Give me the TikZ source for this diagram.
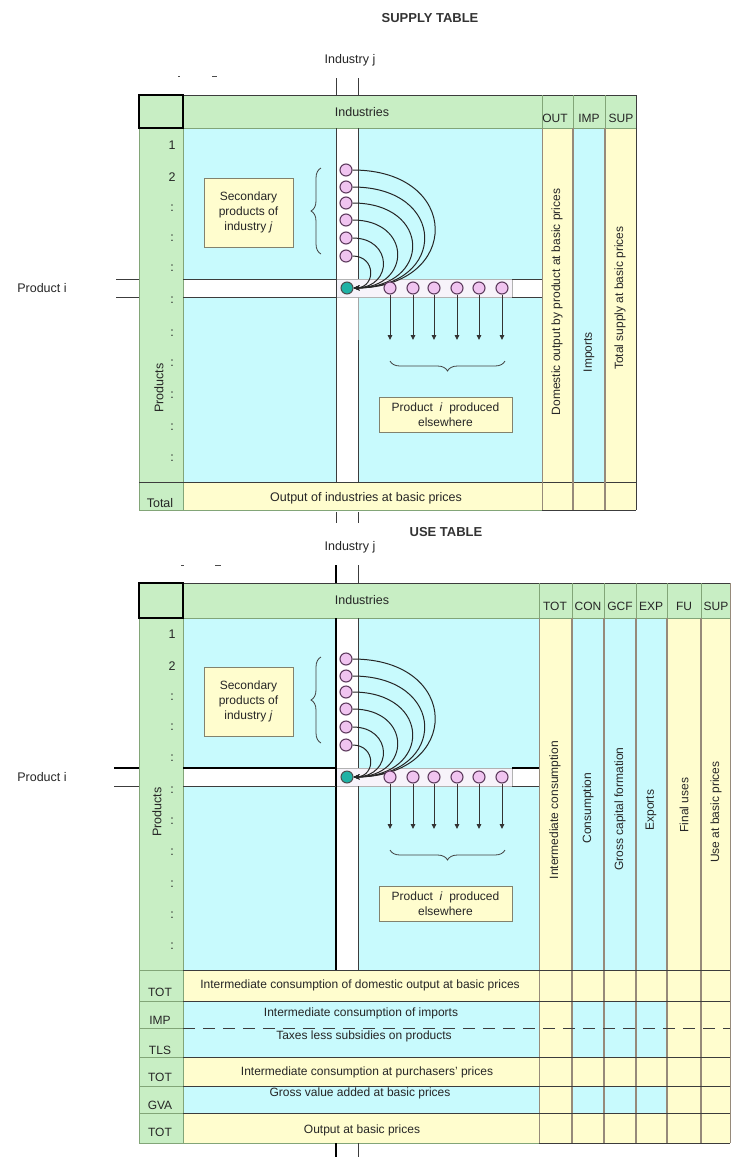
\documentclass[tikz,border=0pt]{standalone}
\usepackage{fontspec}
\setmainfont{Liberation Sans}
\usetikzlibrary{arrows.meta,decorations.pathreplacing}
\definecolor{cyanbg}{RGB}{200,250,253}
\definecolor{greenbg}{RGB}{200,238,196}
\definecolor{yellowbg}{RGB}{255,253,206}
\definecolor{colsep}{RGB}{150,138,122}
\definecolor{pinkfill}{RGB}{240,196,240}
\definecolor{circline}{RGB}{95,60,95}
\definecolor{tealfill}{RGB}{32,178,165}
\definecolor{gridline}{RGB}{60,60,60}
\definecolor{greenline}{RGB}{130,165,120}
\definecolor{boxline}{RGB}{130,130,110}
\definecolor{bandbox}{RGB}{247,243,250}

\tikzset{
 txt/.style={font=\fontsize{12.5}{15}\selectfont, inner sep=0pt, text=black!85},
 stxt/.style={font=\fontsize{12}{15}\selectfont, inner sep=0pt, text=black!85},
 ttl/.style={font=\bfseries\fontsize{13}{15}\selectfont, inner sep=0pt, text=black!80},
 vtxt/.style={stxt, rotate=90},
 pinkc/.style={circle, draw=circline, fill=pinkfill, line width=1.1pt, minimum size=12pt, inner sep=0pt},
 tealc/.style={circle, draw=black!70, fill=tealfill, line width=1pt, minimum size=12pt, inner sep=0pt},
 arcline/.style={draw=black!85, line width=1pt, -{Stealth[length=6pt,width=5pt]}},
 darr/.style={draw=black!80, line width=0.9pt, -{Triangle[length=5pt,width=4.5pt]}},
 brc/.style={decorate, decoration={brace, amplitude=10pt}, draw=black!75, line width=0.8pt},
 notebox/.style={draw=boxline, fill=yellowbg, line width=1pt, align=center, font=\fontsize{12}{15}\selectfont, inner sep=0pt, text=black!85},
 sepl/.style={draw=colsep, line width=1.6pt},
 gridl/.style={draw=gridline, line width=1pt},
 thickl/.style={draw=black, line width=2pt},
 thinl/.style={draw=greenline, line width=0.8pt},
}

\newcommand\flowpart[1]{%
  \node[tealc] (#1t) at (347,288) {};
  \foreach \k/\yy/\cc in {1/170/462,2/187/448,3/203/432,4/220/412,5/238/393,6/256/376}{%
    \node[pinkc] (#1v\k) at (346,\yy) {};
    \draw[arcline] (#1v\k.east) .. controls (\cc,\yy) and (\cc,287) .. (#1t.east);
  }%
  \foreach \k/\xx in {1/390,2/413,3/434,4/457,5/479,6/502}{%
    \node[pinkc] (#1h\k) at (\xx,288) {};
    \coordinate (#1a\k) at (\xx,340);
    \draw[darr] (#1h\k.south) -- (#1a\k);
  }%
  \coordinate (#1b1) at (505,361);
  \coordinate (#1b2) at (390,361);
  \draw[brc] (#1b1) -- (#1b2);
  \coordinate (#1c1) at (321,254);
  \coordinate (#1c2) at (321,168);
  \draw[brc] (#1c1) -- (#1c2);
  \node[notebox, minimum width=89pt, minimum height=69pt] (#1sec) at (248.5,212.5) {Secondary\\products of\\industry \textit{j}};
  \node[notebox, minimum width=133pt, minimum height=35pt] (#1pe) at (445.5,414.5) {Product \ \textit{i} \ produced\\elsewhere};
}

\begin{document}
\begin{tikzpicture}[x=1pt,y=-1pt]
\useasboundingbox (0,0) rectangle (731,1157);
\fill[white] (0,0) rectangle (731,1157);

% ================= SUPPLY TABLE =================
\fill[greenbg] (139,95) rectangle (636,128);
\fill[greenbg] (139,128) rectangle (183,510);
\fill[cyanbg] (183,128) rectangle (542,482);
\fill[yellowbg] (542,128) rectangle (573,482);
\fill[cyanbg] (573,128) rectangle (605,482);
\fill[yellowbg] (605,128) rectangle (636,482);
\fill[yellowbg] (183,482) rectangle (636,510);
% bands
\fill[white] (336,128) rectangle (358,482);
\fill[white] (183,279) rectangle (542,297);
\filldraw[fill=bandbox, draw=black!30, line width=0.8pt] (336,279) rectangle (512,297);
% grid lines
\draw[gridl] (139,95) -- (636,95);
\draw[thinl] (139,95) -- (139,510);
\draw[thinl] (183,128) -- (183,510);
\draw[thinl] (183,128) -- (636,128);
\draw[gridl] (139,482) -- (636,482);
\draw[thinl] (139,510) -- (542,510);
\draw[gridl] (542,510) -- (636,510);
\draw[draw=black, line width=1.6pt] (139,95) rectangle (183,128);
\foreach \xx in {542,573,605}{\draw[thinl] (\xx,95) -- (\xx,128);}
\draw[draw=colsep, line width=1pt] (542,128) -- (542,510);
\draw[sepl] (573,128) -- (573,510);
\draw[sepl] (605,128) -- (605,510);
\draw[gridl] (636,95) -- (636,510);
% vertical band lines
\draw[gridl] (336,128) -- (336,482);
\draw[gridl] (358,128) -- (358,279);
\draw[draw=black!35, line width=1pt] (358,297) -- (358,340);
\draw[gridl] (358,340) -- (358,482);
% horizontal band lines
\draw[gridl] (183,279) -- (336,279);
\draw[gridl] (183,297) -- (336,297);
\draw[gridl] (512,279) -- (542,279);
\draw[gridl] (512,297) -- (542,297);
\draw[gridl] (116,279) -- (139,279);
\draw[gridl] (116,297) -- (139,297);
% ticks
\draw[gridl] (336,78) -- (336,95);
\draw[gridl] (358,78) -- (358,95);
\draw[gridl] (336,512) -- (336,523);
\draw[gridl] (358,512) -- (358,523);
\draw[draw=black!70, line width=0.8pt] (178,76) -- (180,76);
\draw[draw=black!70, line width=0.8pt] (212,76) -- (217,76);

\flowpart{s}

% texts
\node[ttl] (stitle) at (430,18) {SUPPLY TABLE};
\node[txt] (sindj) at (350,60) {Industry j};
\node[txt] (sind) at (362,112) {Industries};
\node[stxt] (sout) at (555,118) {OUT};
\node[stxt] (simph) at (589,118) {IMP};
\node[stxt] (ssuph) at (621,118) {SUP};
\node[txt] (sn1) at (172,145) {1};
\node[txt] (sn2) at (172,177) {2};
\foreach \yy [count=\i] in {208,238,268,300,333,363,395,427,458}{\node[txt] (sd\i) at (172,\yy) {:};}
\node[txt, rotate=90] (sprod) at (159,388) {Products};
\node[txt] (stot) at (160,503) {Total};
\node[txt] (soutind) at (366,498) {Output of industries at basic prices};
\node[vtxt] (sdom) at (557,302) {Domestic output by product at basic prices};
\node[vtxt] (simp) at (589,352) {Imports};
\node[vtxt] (ssup) at (620,298) {Total supply at basic prices};
\node[txt] (sprodi) at (42,288) {Product i};

% ================= USE TABLE =================
\fill[greenbg] (139,583) rectangle (730,618);
\fill[greenbg] (139,618) rectangle (183,1143);
\fill[cyanbg] (183,618) rectangle (539,970);
\fill[yellowbg] (539,618) rectangle (572,970);
\fill[cyanbg] (572,618) rectangle (667,970);
\fill[yellowbg] (667,618) rectangle (730,970);
\fill[yellowbg] (183,970) rectangle (730,1143);
\fill[cyanbg] (183,1001) rectangle (539,1057);
\fill[cyanbg] (183,1086) rectangle (539,1113);
\fill[cyanbg] (572,1001) rectangle (667,1057);
\fill[cyanbg] (572,1086) rectangle (667,1113);
% bands
\fill[white] (336,618) rectangle (358,970);
\fill[white] (183,768) rectangle (539,786);
\filldraw[fill=bandbox, draw=black!30, line width=0.8pt] (336,768) rectangle (512,786);
% grid lines
\draw[gridl] (139,583) -- (730,583);
\draw[thinl] (139,583) -- (139,1143);
\draw[thinl] (183,618) -- (183,1143);
\draw[thinl] (183,618) -- (730,618);
\foreach \xx in {539,572,604,636,667,701}{\draw[thinl] (\xx,583) -- (\xx,618);}
\draw[draw=colsep, line width=1pt] (539,618) -- (539,1143);
\foreach \xx in {572,604,636,667,701}{\draw[sepl] (\xx,618) -- (\xx,1143);}
\draw[draw=colsep, line width=1pt] (730,583) -- (730,1143);
\foreach \yy in {970,1001,1057,1086,1113}{\draw[gridl] (183,\yy) -- (730,\yy); \draw[thinl] (139,\yy) -- (183,\yy);}
\draw[gridl, dash pattern=on 12pt off 8pt] (183,1028) -- (730,1028);
\draw[thinl] (139,1028) -- (183,1028);
\draw[thinl] (139,1143) -- (539,1143);
\draw[gridl] (539,1143) -- (730,1143);
\draw[draw=black, line width=1.6pt] (139,583) rectangle (183,618);
% vertical band lines
\draw[thickl] (336,618) -- (336,970);
\draw[gridl] (358,618) -- (358,768);
\draw[gridl] (358,786) -- (358,970);
% horizontal band lines
\draw[thickl] (183,768) -- (336,768);
\draw[gridl] (183,786) -- (336,786);
\draw[thickl] (512,768) -- (539,768);
\draw[gridl] (512,786) -- (539,786);
\draw[thickl] (114,768) -- (139,768);
\draw[gridl] (114,786) -- (139,786);
% ticks
\draw[thickl] (336,565) -- (336,583);
\draw[gridl] (358,565) -- (358,583);
\draw[thickl] (336,1143) -- (336,1157);
\draw[gridl] (358,1143) -- (358,1157);
\draw[draw=black!70, line width=0.8pt] (181,565) -- (184,565);
\draw[draw=black!70, line width=0.8pt] (215,565) -- (221,565);

\begin{scope}[yshift=-489pt]
\flowpart{u}
\end{scope}

% texts
\node[ttl] (utitle) at (446,532) {USE TABLE};
\node[txt] (uindj) at (350,547) {Industry j};
\node[txt] (uind) at (362,600) {Industries};
\node[stxt] (utoth) at (555,606) {TOT};
\node[stxt] (uconh) at (588,606) {CON};
\node[stxt] (ugcfh) at (620,606) {GCF};
\node[stxt] (uexph) at (651,606) {EXP};
\node[stxt] (ufuh) at (684,606) {FU};
\node[stxt] (usuph) at (716,606) {SUP};
\node[txt] (un1) at (172,634) {1};
\node[txt] (un2) at (172,666) {2};
\foreach \yy [count=\i] in {697,727,758,790,821,852,884,915,946}{\node[txt] (ud\i) at (172,\yy) {:};}
\node[txt, rotate=90] (uprod) at (157,812) {Products};
\node[vtxt] (uic) at (555,810) {Intermediate consumption};
\node[vtxt] (ucon) at (588,808) {Consumption};
\node[vtxt] (ugcf) at (620,809) {Gross capital formation};
\node[vtxt] (uexp) at (651,810) {Exports};
\node[vtxt] (ufu) at (684,805) {Final uses};
\node[vtxt] (usup) at (716,812) {Use at basic prices};
\node[txt] (uprodi) at (42,777) {Product i};
\node[stxt] (ur1) at (360,985) {Intermediate consumption of domestic output at basic prices};
\node[stxt] (ur2) at (361,1013) {Intermediate consumption of imports};
\node[stxt] (ur3) at (364,1036) {Taxes less subsidies on products};
\node[stxt] (ur4) at (367,1072) {Intermediate consumption at purchasers' prices};
\node[stxt] (ur5) at (360,1093) {Gross value added at basic prices};
\node[stxt] (ur6) at (362,1130) {Output at basic prices};
\node[stxt] (ul1) at (160,992) {TOT};
\node[stxt] (ul2) at (160,1020) {IMP};
\node[stxt] (ul3) at (160,1050) {TLS};
\node[stxt] (ul4) at (160,1077) {TOT};
\node[stxt] (ul5) at (160,1105) {GVA};
\node[stxt] (ul6) at (160,1132) {TOT};
\end{tikzpicture}
\end{document}
